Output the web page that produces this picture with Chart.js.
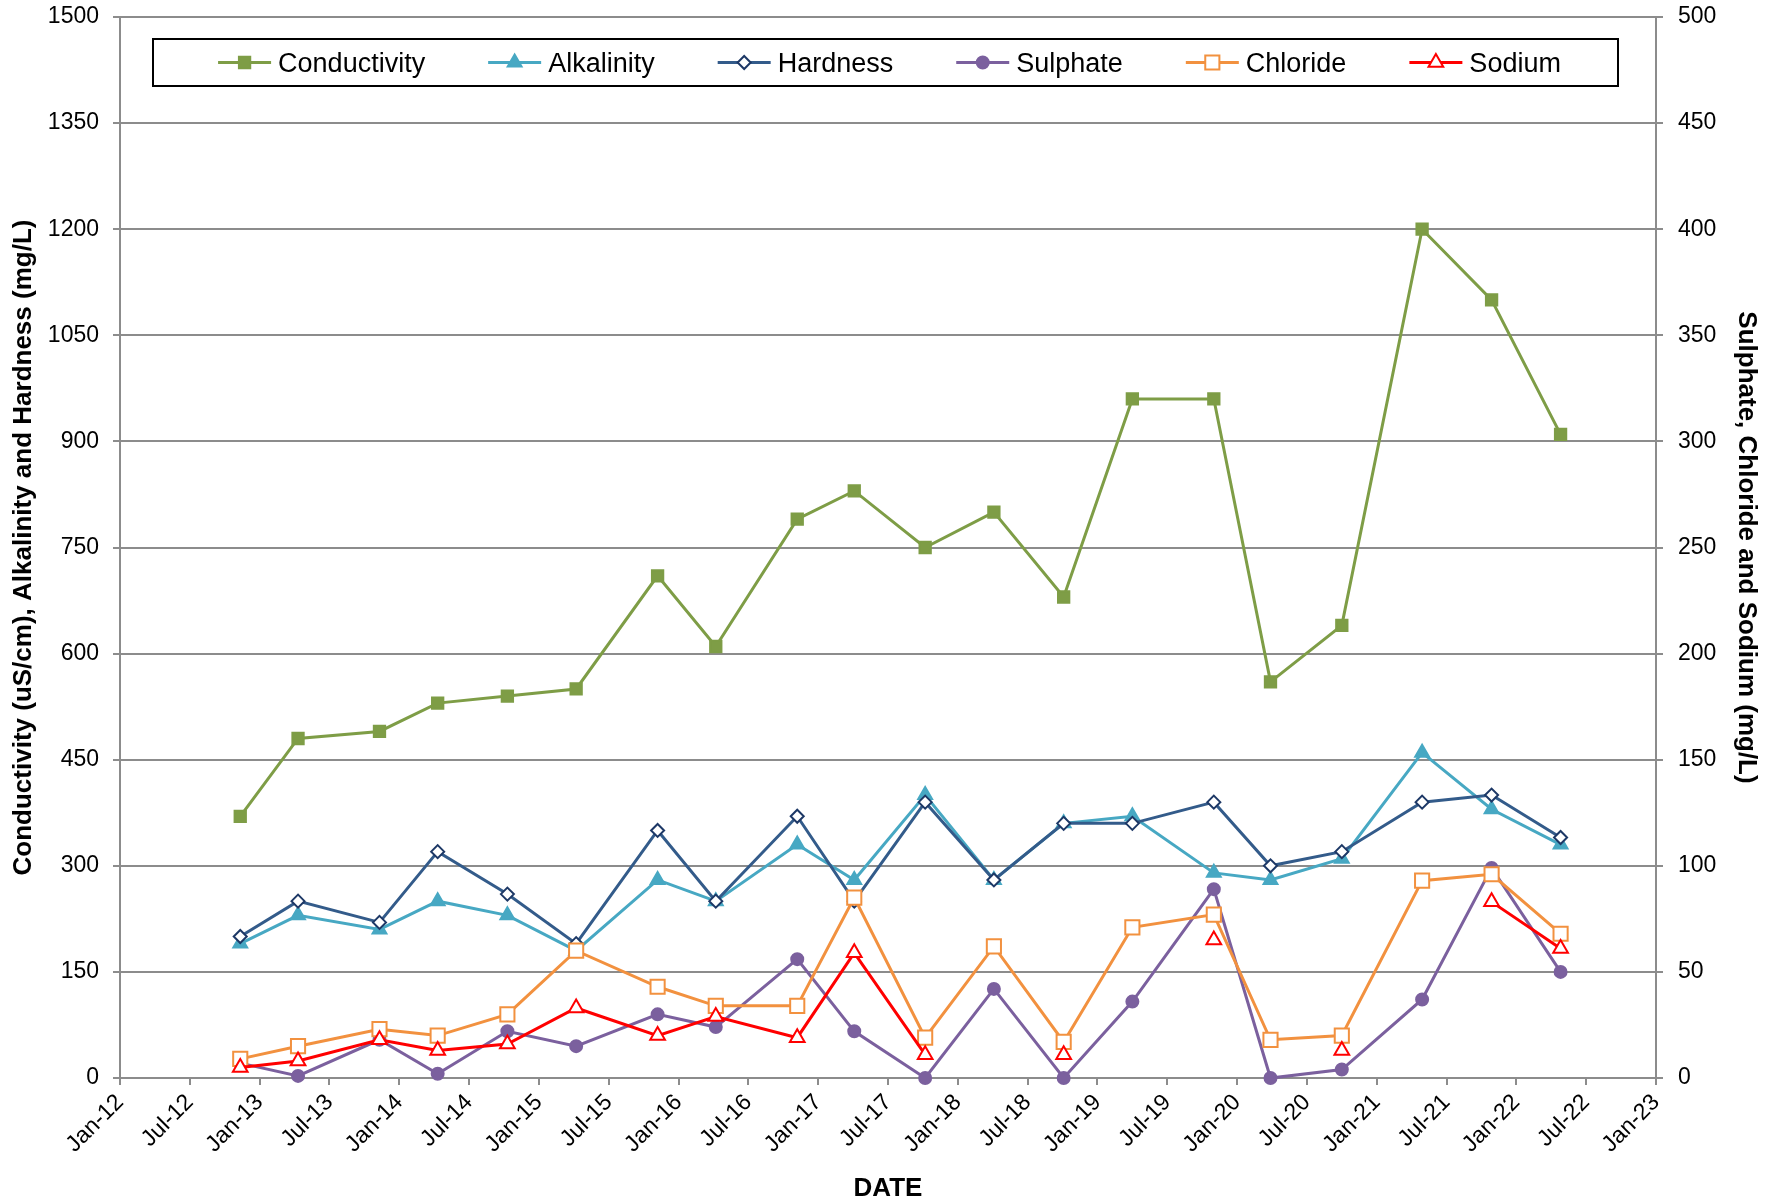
<!DOCTYPE html>
<html>
<head>
<meta charset="utf-8">
<title>Water quality</title>
<script src="https://cdn.jsdelivr.net/npm/chart.js@4.4.0/dist/chart.umd.min.js"></script>
<style>
  html, body { margin: 0; padding: 0; background: #fff; }
</style>
</head>
<body>
<canvas id="waterChart" width="1776" height="1204"></canvas>
<script>
// sample dates
var sampleDates = ['2012-11-11', '2013-04-10', '2013-11-10', '2014-04-10', '2014-10-10',
                   '2015-04-07', '2015-11-07', '2016-04-07', '2016-11-07', '2017-04-04',
                   '2017-10-07', '2018-04-04', '2018-10-04', '2019-04-01', '2019-11-01',
                   '2020-03-28', '2020-10-01', '2021-04-28', '2021-10-28', '2022-04-25'];

// left axis
var conductivity = [370, 480, 490, 530, 540, 550, 710, 610, 790, 830, 750, 800, 680, 960, 960, 560, 640, 1200, 1100, 910];
var alkalinity   = [190, 230, 210, 250, 230, 180, 280, 250, 330, 280, 400, 280, 360, 370, 290, 280, 310, 460, 380, 330];
var hardness     = [200, 250, 220, 320, 260, 190, 350, 250, 370, 250, 390, 280, 360, 360, 390, 300, 320, 390, 400, 340];

// right axis
var sulphate = [7, 1, 18, 2, 22, 15, 30, 24, 56, 22, 0, 42, 0, 36, 89, 0, 4, 37, 99, 50];
var chloride = [9, 15, 23, 20, 30, 60, 43, 34, 34, 85, 19, 62, 17, 71, 77, 18, 20, 93, 96, 68];
var sodium   = [5, 8, 18, 13, 16, 33, 20, 29, 19, 59, 11, null, 11, null, 65, null, 13, null, 83, 61];

var tickMonths = ['Jan', 'Jul'];
var startYear = 2012;

function monthsSinceStart(d) {
    var p = d.split('-');
    var y = +p[0], m = +p[1], day = +p[2];
    var dim = new Date(y, m, 0).getDate();
    return (y - startYear) * 12 + (m - 1) + (day - 1) / dim;
}

function toPoints(values) {
    return values.map(function (v, i) {
        return { x: monthsSinceStart(sampleDates[i]), y: v };
    });
}

function series(label, values, axis, color, style, radius, fill, border, order) {
    return {
        label: label,
        data: toPoints(values),
        yAxisID: axis,
        borderColor: color,
        backgroundColor: color,
        borderWidth: 3,
        pointStyle: style,
        pointRadius: radius,
        pointHoverRadius: radius,
        pointBackgroundColor: fill,
        pointBorderColor: border,
        pointBorderWidth: 2,
        spanGaps: false,
        tension: 0,
        clip: false,
        order: order
    };
}

var FONT = '"Liberation Sans", Arial, sans-serif';
var GRID = '#8c8c8c';

// fixed axis width, and no extra room for the end labels
function fixWidth(w) {
    return function (scale) {
        scale.width = w;
        scale.paddingTop = 0;
        scale.paddingBottom = 0;
    };
}

// legend box drawn inside the plot, like the original
var boxLegend = {
    id: 'boxLegend',
    afterDraw: function (chart) {
        var ctx = chart.ctx, area = chart.chartArea;
        var left = area.left + 33, right = area.right - 38;
        var top = area.top + 22, h = 47;
        ctx.save();
        ctx.fillStyle = '#fff';
        ctx.fillRect(left, top, right - left, h);
        ctx.strokeStyle = '#000';
        ctx.lineWidth = 2;
        ctx.strokeRect(left, top, right - left, h);

        ctx.font = '27px ' + FONT;
        var sets = chart.data.datasets;
        var lineLen = 53, gap = 7, spacing = 63;
        var widths = sets.map(function (ds) { return lineLen + gap + ctx.measureText(ds.label).width; });
        var total = widths.reduce(function (a, b) { return a + b; }, 0) + spacing * (sets.length - 1);
        var x = (left + right) / 2 - total / 2 + 4;
        var y = top + h / 2;
        sets.forEach(function (ds, i) {
            ctx.strokeStyle = ds.borderColor;
            ctx.lineWidth = ds.borderWidth;
            ctx.beginPath();
            ctx.moveTo(x, y);
            ctx.lineTo(x + lineLen, y);
            ctx.stroke();
            ctx.fillStyle = ds.pointBackgroundColor;
            ctx.strokeStyle = ds.pointBorderColor;
            ctx.lineWidth = ds.pointBorderWidth;
            Chart.helpers.drawPoint(ctx, {
                pointStyle: ds.pointStyle, radius: ds.pointRadius,
                borderWidth: ds.pointBorderWidth, rotation: 0
            }, x + lineLen / 2, y);
            ctx.fillStyle = '#000';
            ctx.textAlign = 'left';
            ctx.textBaseline = 'middle';
            ctx.fillText(ds.label, x + lineLen + gap, y + 2);
            x += widths[i] + spacing;
        });
        ctx.restore();
    }
};

var ctx = document.getElementById('waterChart').getContext('2d');
var waterChart = new Chart(ctx, {
    type: 'line',
    data: {
        datasets: [
            series('Conductivity', conductivity, 'y',  '#7e9d46', 'rect',     8,   '#7e9d46', '#7e9d46', 5),
            series('Alkalinity',   alkalinity,   'y',  '#47a8c3', 'triangle', 8,   '#47a8c3', '#47a8c3', 4),
            series('Hardness',     hardness,     'y',  '#335b8a', 'rectRot',  6.5, '#ffffff', '#1d3866', 3),
            series('Sulphate',     sulphate,     'y1', '#7b609e', 'circle',   6,   '#7b609e', '#7b609e', 2),
            series('Chloride',     chloride,     'y1', '#f2913f', 'rect',     10,  '#ffffff', '#f2913f', 1),
            series('Sodium',       sodium,       'y1', '#ff0000', 'triangle', 8.5, '#ffffff', '#ff0000', 0)
        ]
    },
    options: {
        responsive: false,
        animation: false,
        layout: { padding: { top: 17, left: 0, right: 0, bottom: 0 } },
        plugins: {
            legend: { display: false },
            tooltip: { enabled: false }
        },
        scales: {
            x: {
                type: 'linear',
                position: 'bottom',
                min: 0,
                max: 132,
                afterFit: function (scale) { scale.height = 126; },
                grid: { drawOnChartArea: false, color: GRID, tickColor: GRID, lineWidth: 2, tickLength: 7 },
                border: { color: GRID, width: 2 },
                ticks: {
                    stepSize: 6,
                    autoSkip: false,
                    minRotation: 45,
                    maxRotation: 45,
                    padding: 4,
                    color: '#000',
                    font: { family: FONT, size: 23 },
                    callback: function (v) {
                        var yr = startYear + Math.floor(v / 12);
                        return tickMonths[(v % 12) / 6] + '-' + String(yr).slice(2);
                    }
                },
                title: {
                    display: true,
                    text: 'DATE',
                    color: '#000',
                    padding: { top: 0, bottom: 0 },
                    font: { family: FONT, size: 26, weight: 'bold' }
                }
            },
            y: {
                position: 'left',
                min: 0,
                max: 1500,
                afterFit: fixWidth(120),
                grid: { color: GRID, tickColor: GRID, lineWidth: 2, tickLength: 7 },
                border: { color: GRID, width: 2 },
                ticks: {
                    stepSize: 150,
                    padding: 14,
                    color: '#000',
                    font: { family: FONT, size: 23 },
                    callback: function (v) { return String(v); }
                },
                title: {
                    display: true,
                    text: 'Conductivity (uS/cm), Alkalinity and Hardness (mg/L)',
                    color: '#000',
                    padding: { top: 8, bottom: 0 },
                    font: { family: FONT, size: 26, weight: 'bold' }
                }
            },
            y1: {
                position: 'right',
                min: 0,
                max: 500,
                afterFit: fixWidth(120),
                grid: { drawOnChartArea: false, color: GRID, tickColor: GRID, lineWidth: 2, tickLength: 7 },
                border: { color: GRID, width: 2 },
                ticks: {
                    stepSize: 50,
                    padding: 15,
                    color: '#000',
                    font: { family: FONT, size: 23 },
                    callback: function (v) { return String(v); }
                },
                title: {
                    display: true,
                    text: 'Sulphate, Chloride and Sodium (mg/L)',
                    color: '#000',
                    padding: { top: 14, bottom: 0 },
                    font: { family: FONT, size: 26, weight: 'bold' }
                }
            }
        }
    },
    plugins: [boxLegend]
});
</script>
</body>
</html>
